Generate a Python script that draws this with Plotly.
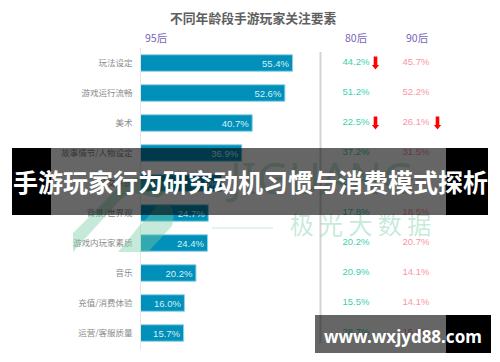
import plotly.graph_objects as go

W, H = 500, 362
categories = ["玩法设定", "游戏运行流畅", "美术", "故事情节/人物设定", "社交系统", "背景/世界观",
              "游戏内玩家素质", "音乐", "充值/消费体验", "运营/客服质量"]
values_95 = [55.4, 52.6, 40.7, 36.9, 29.5, 24.7, 24.4, 20.2, 16.0, 15.7]
values_80 = [44.2, 51.2, 22.5, 37.2, 28.0, 17.8, 20.2, 20.9, 15.5, 28.7]
values_90 = [45.7, 52.2, 26.1, 31.5, 27.6, 18.5, 20.7, 14.1, 14.1, 15.6]
arrows_80 = ["玩法设定", "美术"]
arrows_90 = ["美术"]
columns = ["80后", "90后"]
fmt = lambda v: f"{v:.1f}%"

BAR = "#0090ba"; GREEN = "#3ccfae"; PINK = "#fb95a5"; PURPLE = "#7a63b8"; GRAY = "#8a8a8a"
WM = "rgba(120,205,165,0.42)"
CJK = "Noto Sans CJK SC"

fig = go.Figure()
fig.add_trace(go.Bar(
    y=categories, x=values_95, orientation="h", xaxis="x", yaxis="y",
    marker=dict(color=BAR, line=dict(color="#8fd2e6", width=1)),
    text=[fmt(v) for v in values_95], textposition="inside", insidetextanchor="end",
    textangle=0, constraintext="none", cliponaxis=False,
    textfont=dict(color="#d8eef5", size=9.5, family="Liberation Sans"), width=0.55,
))
for col, vals, color in ((columns[0], values_80, GREEN), (columns[1], values_90, PINK)):
    fig.add_trace(go.Scatter(
        x=[col] * len(vals), y=categories, mode="text", xaxis="x2", yaxis="y",
        text=[fmt(v) for v in vals], textfont=dict(color=color, size=9.5, family="Liberation Sans"),
        textposition="middle center",
    ))
# faint wordmark below the banner
fig.add_trace(go.Scatter(x=[322], y=[183], mode="text", xaxis="x3", yaxis="y3", text=["JIGUANG"],
                         textfont=dict(size=44, color=WM, family="Noto Sans"), textposition="middle center"))
fig.add_trace(go.Scatter(x=[360.5], y=[228], mode="text", xaxis="x3", yaxis="y3",
                         text=["极 光 大 数 据"], textfont=dict(size=24, color=WM, family=CJK),
                         textposition="middle center"))

def px_rect(x0, y0, x1, y1, color, **kw):
    return dict(type="rect", xref="x3", yref="y3", x0=x0, y0=y0, x1=x1, y1=y1,
                fillcolor=color, line=dict(width=0), layer="above", **kw)

arrow_path = "M -1.8 6.5 L 1.8 6.5 L 1.8 -2 L 3.6 -2 L 0 -6.5 L -3.6 -2 L -1.8 -2 Z"
def arrow(col, cat, dx):
    return dict(type="path", xsizemode="pixel", ysizemode="pixel", xref="x2", yref="y",
                xanchor=col, yanchor=cat, path=" ".join(
                    str(float(t) + dx) if i % 3 == 1 else t for i, t in enumerate(arrow_path.split())),
                fillcolor="#ff0000", line=dict(width=0), layer="above")

shapes = [
    dict(type="line", xref="x3", yref="y3", x0=140.5, x1=140.5, y0=48, y1=350, line=dict(color="#e6e6e6", width=1), layer="below"),
    dict(type="line", xref="x3", yref="y3", x0=320.5, x1=320.5, y0=52, y1=343, line=dict(color="#d4d4d4", width=2), layer="below"),
    dict(type="path", xref="x3", yref="y3", fillcolor=WM, line=dict(width=0), layer="above",
         path="M 73 252 L 73 233 L 118 188 Q 132 174 150 178 L 176 186 L 158 198 L 140 194 Q 128 192 120 200 Z"),
    dict(type="path", xref="x3", yref="y3", fillcolor=WM, line=dict(width=0), layer="above",
         path="M 118 252 L 148 252 L 172 226 Q 176 214 170 204 L 156 206 Q 150 216 140 225 Z"),
    dict(type="line", xref="x3", yref="y3", x0=212, x1=273, y0=228, y1=228, line=dict(color=WM, width=1), layer="above"),
    arrow(columns[0], arrows_80[0], 19.5), arrow(columns[0], arrows_80[1], 19.5), arrow(columns[1], arrows_90[0], 21.5),
    # banner
    px_rect(12, 148, 51, 215, "#000000"), px_rect(446, 148, 488, 215, "#000000"),
    px_rect(51, 148, 446, 215, "rgba(0,0,0,0.6)"),
    # url box
    px_rect(315, 315, 446, 353, "rgba(0,0,0,0.6)"), px_rect(446, 315, 491, 353, "#000000"),
]

def note(x, y, text, size, color, family=CJK, bold=False):
    return dict(xref="x3", yref="y3", x=x, y=y, text=f"<b>{text}</b>" if bold else text, showarrow=False,
                font=dict(size=size, color=color, family=family), xanchor="center", yanchor="middle")

annotations = [
    note(253.5, 17.5, "不同年龄段手游玩家关注要素", 12.8, "#5f5f5f", bold=True),
    note(155.5, 37, "95后", 10.5, PURPLE), note(356, 37, "80后", 10.5, PURPLE), note(416.5, 37, "90后", 10.5, PURPLE),
    note(250, 181, "手游玩家行为研究动机习惯与消费模式探析", 25, "#ffffff", bold=True),
    note(402.5, 336.5, "www.wxjyd88.com", 17, "#ffffff", family="Noto Sans", bold=True),
]

fig.update_layout(
    width=W, height=H, margin=dict(l=0, r=0, t=0, b=0), paper_bgcolor="#ffffff", plot_bgcolor="rgba(0,0,0,0)",
    showlegend=False, shapes=shapes, annotations=annotations,
    xaxis=dict(domain=[140.5 / W, 320 / W], range=[0, 179.5 / 2.745], visible=False, anchor="y"),
    xaxis2=dict(domain=[326 / W, 446 / W], type="category", categoryorder="array", categoryarray=columns,
                range=[-0.5, 1.5], visible=False, anchor="y"),
    xaxis3=dict(domain=[0, 1], range=[0, W], visible=False, anchor="y3"),
    yaxis=dict(domain=[1 - 348 / H, 1 - 48 / H], type="category", categoryorder="array",
               categoryarray=categories, autorange=False, range=[9.5, -0.5], showgrid=False, showline=False,
               ticks="", tickfont=dict(size=8.5, color=GRAY, family=CJK), ticklabelstandoff=7, anchor="x"),
    yaxis3=dict(domain=[0, 1], range=[H, 0], visible=False, anchor="x3"),
    font=dict(family=CJK),
)
fig.write_html("out.html", config=dict(displayModeBar=False),
               post_script="document.body.style.margin='0';document.body.style.overflow='hidden';")
